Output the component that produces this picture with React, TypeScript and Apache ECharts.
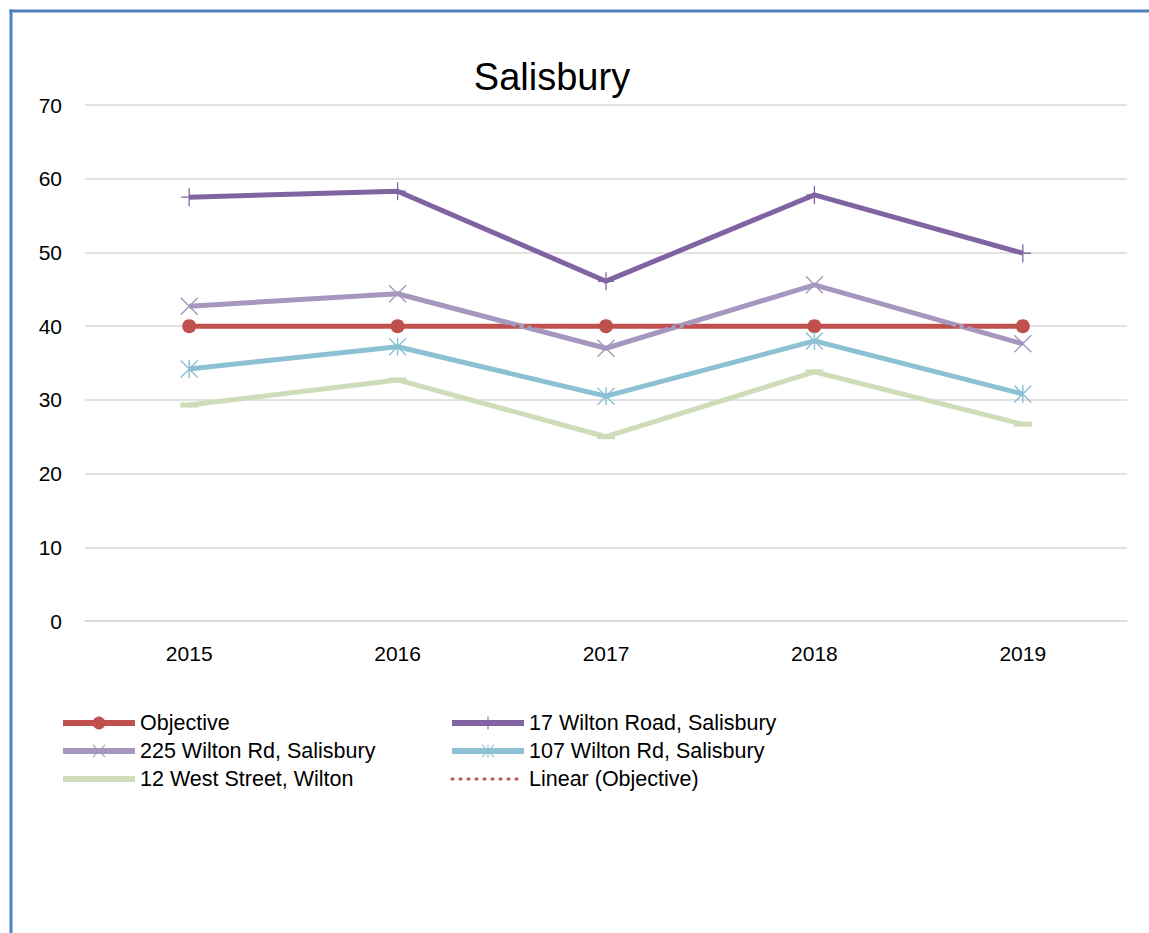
import React, { useEffect, useRef } from "react";
import * as echarts from "echarts";

const years = ["2015", "2016", "2017", "2018", "2019"];
const objective = [40, 40, 40, 40, 40];
const wilton17 = [57.5, 58.3, 46.1, 57.8, 49.9];
const wilton225 = [42.7, 44.4, 37.0, 45.6, 37.6];
const wilton107 = [34.2, 37.2, 30.5, 38.0, 30.8];
const westStreet12 = [29.3, 32.7, 25.0, 33.8, 26.7];
const linearObjective = [40, 40, 40, 40, 40];

const seriesNames = [
  "Objective",
  "17 Wilton Road, Salisbury",
  "225 Wilton Rd, Salisbury",
  "107 Wilton Rd, Salisbury",
  "12 West Street, Wilton",
  "Linear (Objective)",
];

const PLUS = "path://M9.2,0 L10.8,0 L10.8,20 L9.2,20 Z M0,9.2 L20,9.2 L20,10.8 L0,10.8 Z";
const CROSS = "path://M0,1.1 L1.1,0 L20,18.9 L18.9,20 Z M18.9,0 L20,1.1 L1.1,20 L0,18.9 Z";
const STAR =
  "path://M0,1.1 L1.1,0 L20,18.9 L18.9,20 Z M18.9,0 L20,1.1 L1.1,20 L0,18.9 Z M9.2,0 L10.8,0 L10.8,20 L9.2,20 Z";

const FONT = "'Liberation Sans', Arial, sans-serif";

export default function App() {
  const ref = useRef<HTMLDivElement>(null);
  useEffect(() => {
    if (!ref.current) return;
    const chart = echarts.init(ref.current, null, { renderer: "svg" });
    const lineW = 5;
    const legendBase = {
      orient: "vertical",
      top: 707,
      itemWidth: 72,
      itemHeight: 16,
      itemGap: 6,
      lineStyle: { width: 6 },
      textStyle: { fontSize: 21.5, color: "#000", fontFamily: FONT },
    };
    chart.setOption({
      animation: false,
      backgroundColor: "#ffffff",
      textStyle: { fontFamily: FONT },
      title: {
        text: "Salisbury",
        left: 547,
        top: 53,
        textAlign: "center",
        textStyle: { fontSize: 38, fontWeight: "normal", color: "#000", fontFamily: FONT },
      },
      graphic: [
        { type: "line", shape: { x1: 9.5, y1: 11, x2: 1149, y2: 11 }, style: { stroke: "#4F81BD", lineWidth: 3 } },
        { type: "line", shape: { x1: 11, y1: 9.5, x2: 11, y2: 933 }, style: { stroke: "#4F81BD", lineWidth: 3 } },
      ],
      grid: { left: 85, right: 22, top: 105, height: 516, containLabel: false },
      xAxis: {
        type: "category",
        data: years,
        boundaryGap: true,
        axisLine: { show: true, lineStyle: { color: "#D9D9D9", width: 1.5 } },
        axisTick: { show: false },
        axisLabel: { color: "#000", fontSize: 21, margin: 22, fontFamily: FONT },
      },
      yAxis: {
        type: "value",
        min: 0,
        max: 70,
        interval: 10,
        axisLine: { show: false },
        axisTick: { show: false },
        axisLabel: { color: "#000", fontSize: 21, margin: 23, fontFamily: FONT },
        splitLine: { lineStyle: { color: "#D9D9D9", width: 1.5 } },
      },
      legend: [
        {
          ...legendBase,
          left: 55,
          data: [
            { name: seriesNames[0] },
            { name: seriesNames[2] },
            { name: seriesNames[4], itemStyle: { opacity: 0 } },
          ],
        },
        {
          ...legendBase,
          left: 444,
          data: [
            { name: seriesNames[1] },
            { name: seriesNames[3] },
            { name: seriesNames[5], itemStyle: { opacity: 0 }, lineStyle: { width: 3 } },
          ],
        },
      ],
      series: [
        {
          name: seriesNames[0],
          type: "line",
          data: objective,
          symbol: "circle",
          symbolSize: 14,
          color: "#C0504D",
          lineStyle: { width: lineW, color: "#C0504D" },
          itemStyle: { color: "#C0504D" },
        },
        {
          name: seriesNames[1],
          type: "line",
          data: wilton17,
          symbol: PLUS,
          symbolSize: [16, 18],
          color: "#8064A2",
          lineStyle: { width: lineW, color: "#8064A2" },
          itemStyle: { color: "#8064A2" },
        },
        {
          name: seriesNames[2],
          type: "line",
          data: wilton225,
          symbol: CROSS,
          symbolSize: 18,
          color: "#A597BD",
          lineStyle: { width: lineW, color: "#A597BD" },
          itemStyle: { color: "#A597BD" },
        },
        {
          name: seriesNames[3],
          type: "line",
          data: wilton107,
          symbol: STAR,
          symbolSize: 18,
          color: "#8CC0D3",
          lineStyle: { width: lineW, color: "#8CC0D3" },
          itemStyle: { color: "#8CC0D3" },
        },
        {
          name: seriesNames[4],
          type: "line",
          data: westStreet12,
          symbol: "rect",
          symbolSize: [18, 5],
          color: "#CFDCBA",
          lineStyle: { width: lineW, color: "#CFDCBA" },
          itemStyle: { color: "#CFDCBA" },
        },
        {
          name: seriesNames[5],
          type: "line",
          data: linearObjective,
          symbol: "none",
          color: "#C0504D",
          lineStyle: { width: 3, color: "#C0504D", type: [1, 7], cap: "round" },
          itemStyle: { color: "#C0504D" },
        },
      ],
    });
    return () => chart.dispose();
  }, []);
  return (
    <div
      ref={ref}
      style={{ position: "fixed", left: 0, top: 0, width: 1149, height: 933 }}
    />
  );
}
